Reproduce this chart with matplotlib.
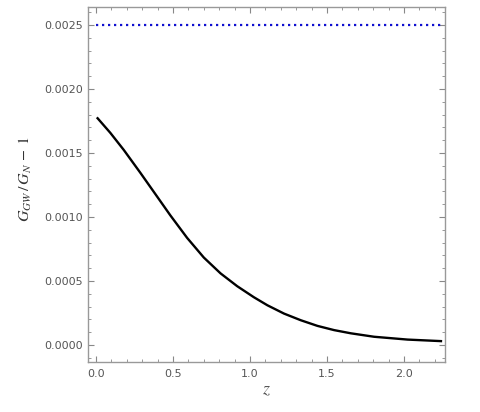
import numpy as np
import matplotlib
matplotlib.use("Agg")
import matplotlib.pyplot as plt
from matplotlib.ticker import MultipleLocator

# curve (z, G_GW/G_N - 1)
z = [0.0104, 0.093, 0.18, 0.288, 0.397, 0.483, 0.592, 0.70, 0.809, 0.917,
     1.025, 1.113, 1.221, 1.33, 1.438, 1.546, 1.655, 1.806, 2.023, 2.24]
dG = [0.001771, 0.001657, 0.001524, 0.001345, 0.001159, 0.001012, 0.000836,
      0.000683, 0.000559, 0.000459, 0.000373, 0.00031, 0.000245, 0.000193,
      0.000149, 0.000116, 0.000091, 0.000064, 0.000042, 0.00003]

# upper bound line
bound_z = [0.0, 2.24]
bound = [0.0025, 0.0025]

plt.rcParams['mathtext.fontset'] = 'stix'

fig = plt.figure(figsize=(4.8, 4.12), dpi=100)
ax = fig.add_axes([0.1833, 0.1214, 0.7437, 0.8616])

ax.plot(z, dG, color='black', lw=1.7, solid_joinstyle='round')
ax.plot(bound_z, bound, color='#1010d0', lw=1.6, linestyle=(0, (1, 1.7)))

ax.set_xlim(-0.052, 2.266)
ax.set_ylim(-0.000133, 0.00264)

ax.xaxis.set_major_locator(MultipleLocator(0.5))
ax.xaxis.set_minor_locator(MultipleLocator(0.1))
ax.yaxis.set_major_locator(MultipleLocator(0.0005))
ax.yaxis.set_minor_locator(MultipleLocator(0.0001))
ax.xaxis.set_major_formatter(plt.FormatStrFormatter('%.1f'))
ax.yaxis.set_major_formatter(plt.FormatStrFormatter('%.4f'))

ax.tick_params(which='both', direction='in', top=True, right=True,
               colors='#888888', labelcolor='#555555', labelsize=8)
ax.tick_params(which='major', length=4, width=0.8)
ax.tick_params(which='minor', length=2, width=0.6)
ax.tick_params(axis='x', pad=5)
for s in ax.spines.values():
    s.set_color('#999999')
    s.set_linewidth(1.0)

ax.set_xlabel('$z$', fontsize=13, color='#555555', labelpad=1)
ax.set_ylabel('$G_{GW}\\,/\\,G_N\\,-\\,1$', fontsize=11.5, color='#333333')
ax.yaxis.set_label_coords(-0.151, 0.515)

fig.savefig('out.png', dpi=100)
